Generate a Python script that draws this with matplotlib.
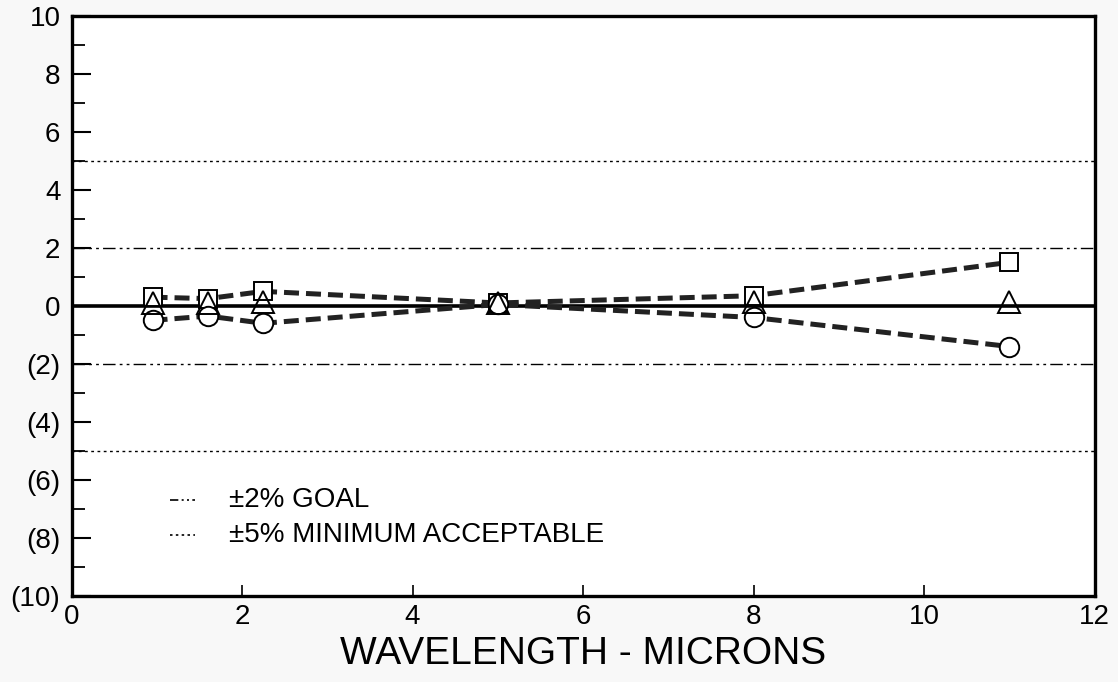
import matplotlib
matplotlib.use("Agg")
import matplotlib.pyplot as plt
from matplotlib.ticker import MultipleLocator, FuncFormatter

plt.rcParams['font.family'] = ['Liberation Sans', 'DejaVu Sans']

# Data
wavelength = [0.95, 1.6, 2.25, 5.0, 8.0, 11.0]
square_vals = [0.3, 0.25, 0.5, 0.1, 0.35, 1.5]
triangle_vals = [0.1, 0.1, 0.15, 0.1, 0.15, 0.15]
circle_vals = [-0.5, -0.35, -0.6, 0.05, -0.4, -1.4]
goal = 2
minimum = 5
legend_labels = ["\u00b12% GOAL", "\u00b15% MINIMUM ACCEPTABLE"]
xlabel = "WAVELENGTH - MICRONS"

fig = plt.figure(figsize=(11.18, 6.82), dpi=100)
ax = fig.add_axes([0.064, 0.126, 0.915, 0.851])
ax.set_xlim(0, 12)
ax.set_ylim(-10, 10)

# reference lines
for v in (goal, -goal):
    ax.plot([0, 12], [v, v], color='black', lw=1.0, dashes=(9, 3, 2, 3, 2, 3))
for v in (minimum, -minimum):
    ax.plot([0, 12], [v, v], color='black', lw=1.0, dashes=(2, 2.5))
ax.axhline(0, color='black', lw=2.6, zorder=2)

# series
ax.plot(wavelength, square_vals, color='#222222', lw=3.6, dashes=(3, 1.4), zorder=3)
ax.plot(wavelength, circle_vals, color='#222222', lw=3.6, dashes=(3, 1.4), zorder=3)
ax.plot(wavelength, square_vals, ls='none', marker='s', ms=13, mfc='white', mec='black', mew=1.4, zorder=4)
ax.plot(wavelength, circle_vals, ls='none', marker='o', ms=14, mfc='white', mec='black', mew=1.4, zorder=4)
ax.plot(wavelength, triangle_vals, ls='none', marker='^', ms=16, mfc='none', mec='black', mew=1.4, zorder=5)

# legend (drawn as text with line samples)
ax.plot([1.15, 1.45], [-6.7, -6.7], color='black', lw=1.2, dashes=(5, 2, 1.2, 2, 1.2, 2))
ax.plot([1.15, 1.45], [-7.9, -7.9], color='black', lw=1.2, dashes=(1.5, 2))
ax.text(1.85, -6.7, legend_labels[0], fontsize=20, va='center', ha='left')
ax.text(1.85, -7.9, legend_labels[1], fontsize=20, va='center', ha='left')

# ticks
ax.set_xticks([0, 2, 4, 6, 8, 10, 12])
ax.yaxis.set_major_locator(MultipleLocator(2))
ax.yaxis.set_minor_locator(MultipleLocator(1))
ax.yaxis.set_major_formatter(FuncFormatter(lambda v, p: f"({abs(int(v))})" if v < 0 else f"{int(v)}"))
ax.tick_params(axis='y', which='major', direction='in', length=14, width=1.5, labelsize=20, pad=8)
ax.tick_params(axis='y', which='minor', direction='in', length=9, width=1.3)
ax.tick_params(axis='x', which='major', direction='in', length=8, width=1.2, labelsize=20, pad=6)
for s in ax.spines.values():
    s.set_linewidth(2.4)

ax.set_xlabel(xlabel, fontsize=28, labelpad=4)

fig.savefig("out.png", dpi=100, facecolor='#f8f8f8')
